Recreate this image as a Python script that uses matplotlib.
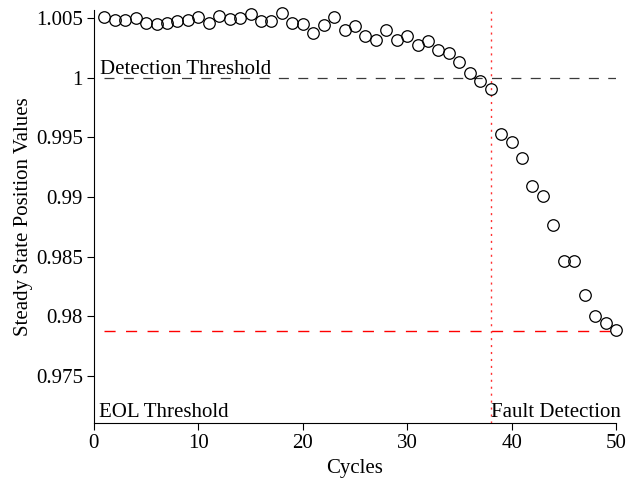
import numpy as np
import matplotlib.pyplot as plt

plt.rcParams['font.family'] = ['Liberation Serif', 'DejaVu Serif']

cycles = np.arange(1, 51)
position_values = [
    1.00508, 1.00483, 1.00483, 1.00498, 1.00458, 1.00450, 1.00458, 1.00475, 1.00481, 1.00508,
    1.00453, 1.00514, 1.00489, 1.00498, 1.00531, 1.00475, 1.00475, 1.00544, 1.00453, 1.00448,
    1.00369, 1.00442, 1.00503, 1.00400, 1.00433, 1.00344, 1.00317, 1.00398, 1.00314, 1.00344,
    1.00275, 1.00303, 1.00231, 1.00206, 1.00128, 1.00039, 0.99972, 0.99900, 0.99531, 0.99464,
    0.99325, 0.99094, 0.99008, 0.98761, 0.98461, 0.98461, 0.98178, 0.98003, 0.97944, 0.97889,
]
detection_threshold = 1.0
eol_threshold = 0.9788
fault_cycle = 38

fig = plt.figure(figsize=(6.26, 4.8), dpi=100)
ax = fig.add_axes([0.150, 0.119, 0.834, 0.860])

ax.plot(cycles, position_values, linestyle='none', marker='o', markersize=8.3,
        markerfacecolor='none', markeredgecolor='black', markeredgewidth=0.9,
        clip_on=False, zorder=3)

ax.plot([1, 50], [detection_threshold, detection_threshold], color='#3a3a3a',
        linestyle=(0, (8, 7.5)), linewidth=0.9)
ax.plot([1, 50], [eol_threshold, eol_threshold], color='#ff0000',
        linestyle=(0, (8, 7.5)), linewidth=1.0)
ax.axvline(fault_cycle, color='#ff3030', linestyle=(0, (1.5, 3.5)), linewidth=1.0)

ax.text(0.55, detection_threshold - 0.0001, 'Detection Threshold', fontsize=15,
        ha='left', va='bottom')
ax.text(0.45, 0.97112, 'EOL Threshold', fontsize=15, ha='left', va='bottom')
ax.text(fault_cycle + 0.05, 0.97112, 'Fault Detection', fontsize=15,
        ha='left', va='bottom')

ax.set_xlim(0, 50)
ax.set_ylim(0.97108, 1.00565)
ax.set_xticks([0, 10, 20, 30, 40, 50])
ax.set_yticks([0.975, 0.98, 0.985, 0.99, 0.995, 1.0, 1.005])
ax.set_yticklabels(['0.975', '0.98', '0.985', '0.99', '0.995', '1', '1.005'])
ax.tick_params(direction='out', length=5, labelsize=15, pad=3)
ax.spines['top'].set_visible(False)
ax.spines['right'].set_visible(False)

ax.set_xlabel('Cycles', fontsize=15, labelpad=4)
ax.set_ylabel('Steady State Position Values', fontsize=15, labelpad=2)

fig.savefig('out.png', dpi=100)
